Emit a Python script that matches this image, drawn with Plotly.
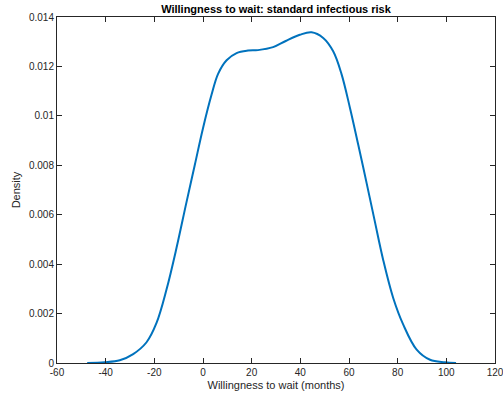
import plotly.graph_objects as go

# Kernel density estimate of willingness to wait (months)
wait_months = [-47.6, -40.4, -34.2, -28.7, -23.2, -19.1, -15.0, -10.9, -6.8, -3.4,
               0.0, 3.5, 6.2, 9.7, 13.8, 18.5, 22.6, 28.8, 34.0, 39.8,
               44.6, 49.4, 53.5, 56.9, 60.4, 63.8, 67.2, 70.5, 74.1, 78.2,
               82.3, 87.8, 93.3, 99.4, 104.0]
density = [0.0, 0.00003, 0.00011, 0.00036, 0.00084, 0.00162, 0.00297, 0.00465, 0.0065, 0.0080,
           0.0095, 0.01085, 0.0117, 0.01225, 0.01254, 0.01264, 0.01266, 0.01278, 0.01303, 0.01328,
           0.01338, 0.01315, 0.01261, 0.0117, 0.01032, 0.00883, 0.0073, 0.00578, 0.00415, 0.00262,
           0.00155, 0.00054, 0.00013, 0.00003, 0.0]

x_ticks = [-60, -40, -20, 0, 20, 40, 60, 80, 100, 120]
x_tick_labels = ["-60", "-40", "-20", "0", "20", "40", "60", "80", "100", "120"]
y_ticks = [0, 0.002, 0.004, 0.006, 0.008, 0.01, 0.012, 0.014]
y_tick_labels = ["0", "0.002", "0.004", "0.006", "0.008", "0.01", "0.012", "0.014"]

axis_color = "#262626"
font_family = "Liberation Sans, Arial, Helvetica, sans-serif"

fig = go.Figure()
fig.add_trace(go.Scatter(
    x=wait_months, y=density, mode="lines",
    line=dict(color="#0072BD", width=2, shape="spline", smoothing=1.0),
    hoverinfo="skip", showlegend=False,
))

common_axis = dict(
    showgrid=False, zeroline=False, showline=True, linecolor=axis_color, linewidth=1,
    mirror="ticks", ticks="inside", ticklen=5, tickwidth=1, tickcolor=axis_color,
    tickfont=dict(family=font_family, size=10, color=axis_color),
    ticklabeloverflow="allow", automargin=False,
)

fig.update_layout(
    width=503, height=400,
    margin=dict(l=57, r=8, t=17, b=37),
    plot_bgcolor="white", paper_bgcolor="white",
    font=dict(family=font_family, color=axis_color),
    title=dict(
        text="<b>Willingness to wait: standard infectious risk</b>",
        x=0.5, xref="paper", xanchor="center",
        y=1 - 9 / 400, yref="container", yanchor="middle",
        font=dict(family=font_family, size=11, color="#000000"),
    ),
    xaxis=dict(
        range=[-60, 120], tickvals=x_ticks, ticktext=x_tick_labels,
        title=dict(text="Willingness to wait (months)", standoff=4,
                   font=dict(family=font_family, size=11, color=axis_color)),
        **common_axis,
    ),
    yaxis=dict(
        range=[0, 0.014], tickvals=y_ticks, ticktext=y_tick_labels,
        title=dict(text="Density", standoff=6,
                   font=dict(family=font_family, size=11, color=axis_color)),
        **common_axis,
    ),
)

fig.write_html("out.html")
